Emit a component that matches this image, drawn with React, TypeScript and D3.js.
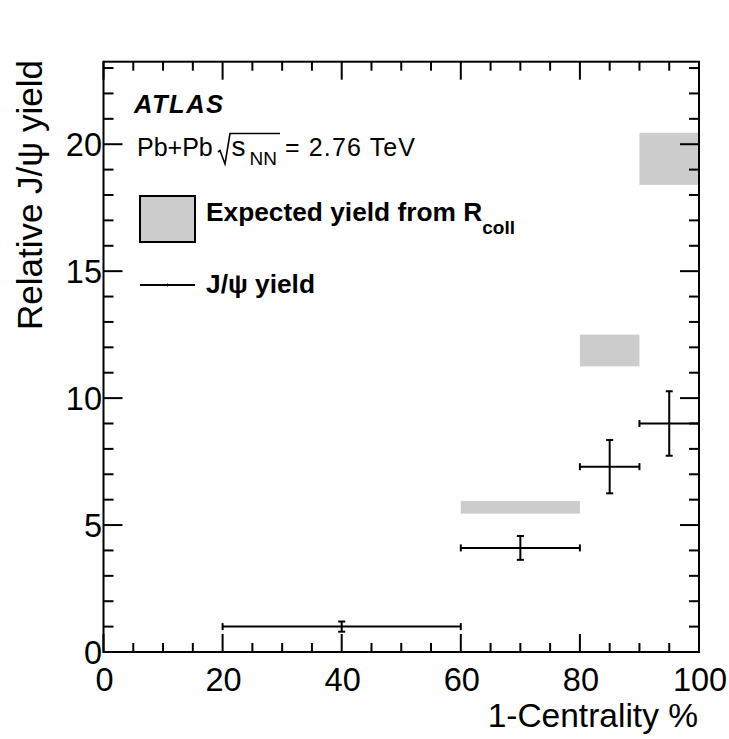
import React from "react";
import * as d3 from "d3";

const binLow = [20, 60, 80, 90];
const binHigh = [60, 80, 90, 100];
const binCenter = [40, 70, 85, 95];
const yieldVals = [1.0, 4.1, 7.3, 9.0];
const yieldErr = [0.2, 0.47, 1.05, 1.27];

const expLow = [60, 80, 90];
const expHigh = [80, 90, 100];
const expMin = [5.45, 11.25, 18.4];
const expMax = [5.95, 12.5, 20.45];

const xMajorTicks = [0, 20, 40, 60, 80, 100];
const yMajorTicks = [0, 5, 10, 15, 20];

const W = 729;
const H = 739;

export default function App() {
  const x = d3.scaleLinear().domain([0, 100]).range([103.5, 699]);
  const y = d3.scaleLinear().domain([0, 23.25]).range([652, 61.7]);
  const [x0, x1] = x.range();
  const [y0, y1] = y.range();

  const xMinor = d3.range(0, 101, 5).filter((v) => v % 20 !== 0);
  const yMinor = d3.range(0, 24, 1).filter((v) => v % 5 !== 0);

  const font = "'Liberation Sans', Arial, Helvetica, sans-serif";
  const fs = 32.5;
  const cap = 3.5;
  const lw = 2;

  return (
    <svg
      width={W}
      height={H}
      style={{ position: "absolute", left: 0, top: 0, background: "#fff" }}
      fontFamily={font}
    >
      <rect x={0} y={0} width={W} height={H} fill="#fff" />
      {/* expected boxes */}
      {expLow.map((lo, i) => (
        <rect
          key={"e" + i}
          x={x(lo)}
          y={y(expMax[i])}
          width={x(expHigh[i]) - x(lo)}
          height={y(expMin[i]) - y(expMax[i])}
          fill="#cccccc"
        />
      ))}
      {/* data points */}
      {binCenter.map((c, i) => {
        const cx = x(c);
        const cy = y(yieldVals[i]);
        const xl = x(binLow[i]);
        const xh = x(binHigh[i]);
        const yt = y(yieldVals[i] + yieldErr[i]);
        const yb = y(yieldVals[i] - yieldErr[i]);
        return (
          <g key={"p" + i} stroke="#000" strokeWidth={lw}>
            <line x1={xl} x2={xh} y1={cy} y2={cy} />
            <line x1={cx} x2={cx} y1={yt} y2={yb} />
            <line x1={xl} x2={xl} y1={cy - cap} y2={cy + cap} />
            <line x1={xh} x2={xh} y1={cy - cap} y2={cy + cap} />
            <line x1={cx - cap} x2={cx + cap} y1={yt} y2={yt} />
            <line x1={cx - cap} x2={cx + cap} y1={yb} y2={yb} />
          </g>
        );
      })}
      {/* frame */}
      <rect x={x0} y={y1} width={x1 - x0} height={y0 - y1} fill="none" stroke="#000" strokeWidth={2} />
      {/* ticks */}
      <g stroke="#000" strokeWidth={2}>
        {xMajorTicks.map((v) => (
          <g key={"xm" + v}>
            <line x1={x(v)} x2={x(v)} y1={y0} y2={y0 - 18} />
            <line x1={x(v)} x2={x(v)} y1={y1} y2={y1 + 18} />
          </g>
        ))}
        {xMinor.map((v) => (
          <g key={"xn" + v}>
            <line x1={x(v)} x2={x(v)} y1={y0} y2={y0 - 9} />
            <line x1={x(v)} x2={x(v)} y1={y1} y2={y1 + 9} />
          </g>
        ))}
        {yMajorTicks.map((v) => (
          <g key={"ym" + v}>
            <line x1={x0} x2={x0 + 19} y1={y(v)} y2={y(v)} />
            <line x1={x1} x2={x1 - 19} y1={y(v)} y2={y(v)} />
          </g>
        ))}
        {yMinor.map((v) => (
          <g key={"yn" + v}>
            <line x1={x0} x2={x0 + 10} y1={y(v)} y2={y(v)} />
            <line x1={x1} x2={x1 - 10} y1={y(v)} y2={y(v)} />
          </g>
        ))}
      </g>
      {/* tick labels */}
      {xMajorTicks.map((v) => (
        <text key={"xl" + v} x={x(v) + 1} y={691} fontSize={fs} textAnchor="middle" fill="#000">
          {v}
        </text>
      ))}
      {yMajorTicks.map((v) => (
        <text key={"yl" + v} x={x0 - 1.5} y={y(v) + 11.5} fontSize={fs} textAnchor="end" fill="#000">
          {v}
        </text>
      ))}
      {/* axis titles */}
      <text x={698} y={727} fontSize={33.5} textAnchor="end" fill="#000">
        1-Centrality %
      </text>
      <text
        transform={`translate(42, 60) rotate(-90)`}
        fontSize={35}
        textAnchor="end"
        fill="#000"
      >
        Relative J/ψ yield
      </text>
      {/* ATLAS label */}
      <text x={134} y={113} fontSize={25.5} fontWeight="bold" fontStyle="italic" letterSpacing={1.5} fill="#000">
        ATLAS
      </text>
      {/* Pb+Pb text */}
      <text x={137} y={156} fontSize={25} fill="#000">
        Pb+Pb
      </text>
      <path d="M218,152 L220,150.5 L225,164 L230,133.5 L280,133.5" fill="none" stroke="#000" strokeWidth={1.6} strokeLinejoin="miter" />
      <text x={231.5} y={156} fontSize={28} fill="#000">
        s
      </text>
      <text x={249.5} y={165} fontSize={19} fill="#000">
        NN
      </text>
      <text x={285} y={156} fontSize={25} fill="#000" textLength={130} lengthAdjust="spacing">
        = 2.76 TeV
      </text>
      {/* legend */}
      <rect x={140} y={196} width={55} height={46} fill="#cccccc" stroke="#000" strokeWidth={2} />
      <text x={206} y={221} fontSize={26.3} fontWeight="bold" fill="#000">
        Expected yield from R
        <tspan fontSize={19} dy={13}>coll</tspan>
      </text>
      <line x1={140} x2={195} y1={285} y2={285} stroke="#000" strokeWidth={2} />
      <line x1={167.5} x2={167.5} y1={283.5} y2={286.5} stroke="#000" strokeWidth={1} />
      <text x={206} y={293} fontSize={26.3} fontWeight="bold" fill="#000">
        J/ψ yield
      </text>
    </svg>
  );
}
